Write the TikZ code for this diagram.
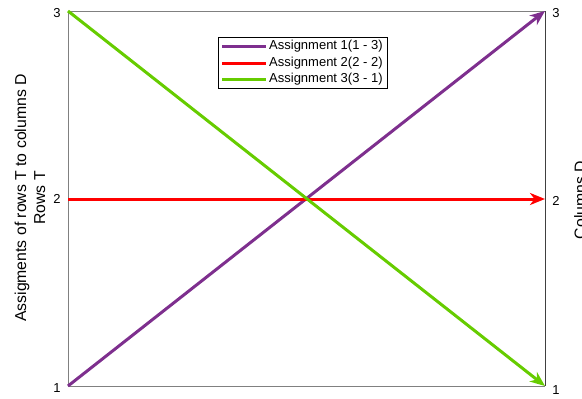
\documentclass[tikz,border=0pt]{standalone}
\usepackage{fontspec}
\setmainfont{Liberation Sans}
\usetikzlibrary{arrows.meta}

\definecolor{assignpurple}{RGB}{126,47,142}
\definecolor{assignred}{RGB}{255,0,0}
\definecolor{assigngreen}{RGB}{102,204,0}

\tikzset{
    ticklabel/.style={font=\fontsize{13}{15}\selectfont,inner sep=0pt},
    axislabel/.style={font=\fontsize{15.8}{18}\selectfont,rotate=90,align=center,inner sep=0pt},
    legendtext/.style={font=\fontsize{13}{14}\selectfont,anchor=west,inner sep=0pt},
    assignment/.style={line width=3pt,-{Stealth[length=15pt,width=12pt,inset=4.5pt]}},
    legendline/.style={line width=3pt}
}

\begin{document}
\begin{tikzpicture}[x=1pt,y=-1pt]
    \useasboundingbox (0,0) rectangle (582,399);

    % plot box
    \coordinate (t3) at (68,11);
    \coordinate (t2) at (68,199);
    \coordinate (t1) at (68,386);
    \coordinate (d3) at (545,11);
    \coordinate (d2) at (545,199);
    \coordinate (d1) at (545,386);
    \draw[gray,line width=1pt] (d3) -- (t3) -- (t1) -- (d1);
    \draw[black!75,line width=1pt] (d3) -- (d1);

    % tick labels
    \node[ticklabel] (lt3) at (57,13) {3};
    \node[ticklabel] (lt2) at (57,199) {2};
    \node[ticklabel] (lt1) at (57,388) {1};
    \node[ticklabel] (ld3) at (556,13) {3};
    \node[ticklabel] (ld2) at (556,201) {2};
    \node[ticklabel] (ld1) at (556,390) {1};

    % axis labels
    \node[axislabel] (rowslabel) at (30,198)
        {Assigments of rows T to columns D\\[1pt]Rows T};
    \node[axislabel] (colslabel) at (580,200) {Columns D};

    % assignments
    \draw[assignment,assignpurple] (t1) -- (d3);
    \draw[assignment,assignred] (t2) -- (d2);
    \draw[assignment,assigngreen] (t3) -- (d1);

    % legend
    \draw[black,line width=0.6pt,fill=white] (218,37) rectangle (387,88);
    \coordinate (ls1) at (222,46);
    \coordinate (le1) at (266,46);
    \coordinate (ls2) at (222,63);
    \coordinate (le2) at (266,63);
    \coordinate (ls3) at (222,79);
    \coordinate (le3) at (266,79);
    \draw[legendline,assignpurple] (ls1) -- (le1);
    \draw[legendline,assignred] (ls2) -- (le2);
    \draw[legendline,assigngreen] (ls3) -- (le3);
    \node[legendtext] (leg1) at (269,46) {Assignment 1(1 - 3)};
    \node[legendtext] (leg2) at (269,63) {Assignment 2(2 - 2)};
    \node[legendtext] (leg3) at (269,79) {Assignment 3(3 - 1)};
\end{tikzpicture}
\end{document}
